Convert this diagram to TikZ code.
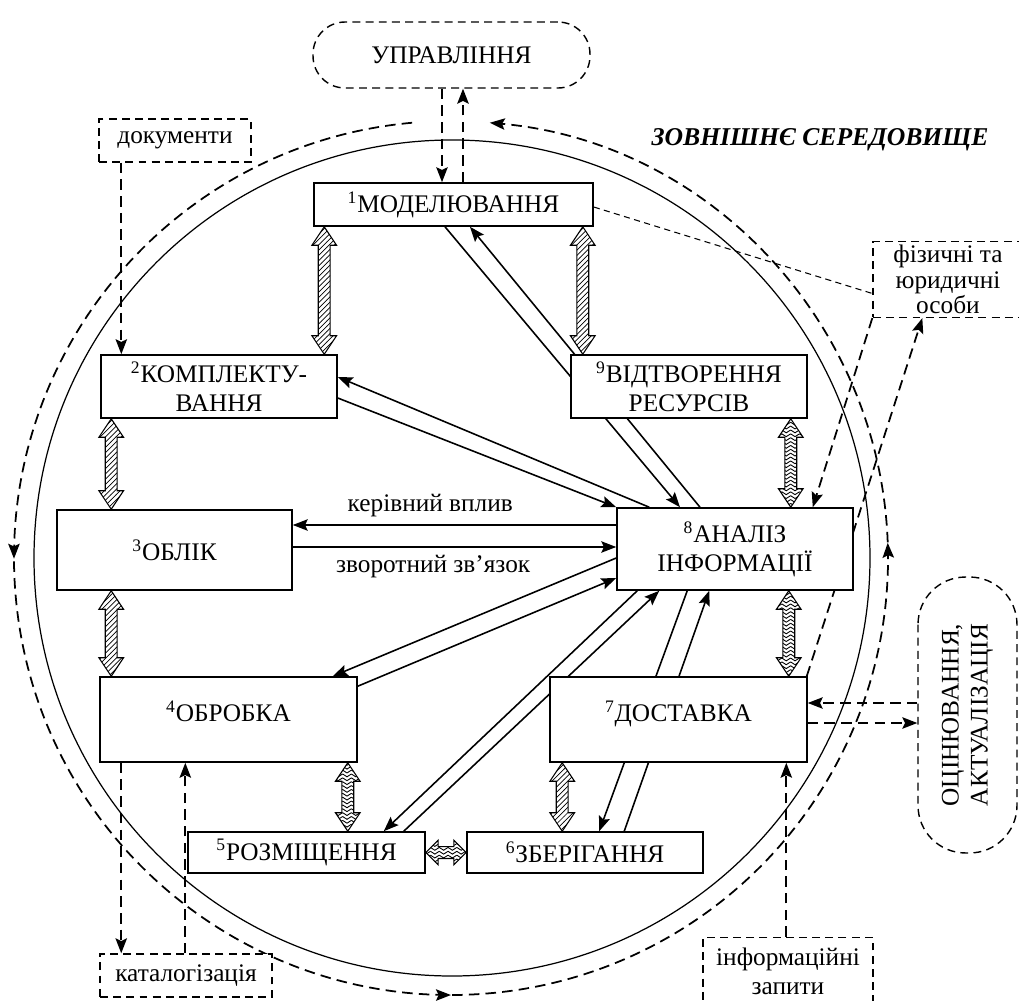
\documentclass[tikz,border=0pt]{standalone}
\usepackage{fontspec}
\setmainfont{Liberation Serif}
\usetikzlibrary{calc,patterns,arrows.meta,decorations.markings,backgrounds}

% zigzag fill for some of the fat arrows
\pgfdeclarepatternformonly{chevrons}{\pgfpoint{-1pt}{-1pt}}{\pgfpoint{6pt}{3.2pt}}{\pgfpoint{5pt}{2.2pt}}{%
  \pgfsetlinewidth{0.5pt}%
  \pgfpathmoveto{\pgfpoint{0pt}{1.6pt}}%
  \pgfpathlineto{\pgfpoint{2.5pt}{0pt}}%
  \pgfpathlineto{\pgfpoint{5pt}{1.6pt}}%
  \pgfusepath{stroke}}

\tikzset{
  stage/.style={draw, line width=0.9pt, fill=white, inner sep=2pt, align=center},
  outer/.style={draw, dash pattern=on 4.5pt off 3pt, line width=0.8pt, fill=white, inner sep=2pt, align=center},
  link/.style={line width=0.9pt, -{Stealth[length=8.5pt,width=6.5pt,inset=1.5pt]}},
  dlink/.style={line width=1pt, dash pattern=on 6pt off 3.5pt, -{Stealth[length=8.5pt,width=6.5pt,inset=1.5pt]}},
  fatarrow/.style={draw, line width=0.6pt}
}

\newcommand\fathead{10.5pt}
\newcommand\fatlink[3][north east lines]{%
  \coordinate (fs) at (#2);
  \coordinate (ft) at (#3);
  \coordinate (fa) at ($(fs)!\fathead!(ft)$);
  \coordinate (fb) at ($(ft)!\fathead!(fs)$);
  \draw[fatarrow, pattern=#1] (fs) -- ($(fa)!7pt!90:(ft)$) -- ($(fa)!3.4pt!90:(ft)$)
    -- ($(fb)!3.4pt!-90:(fs)$) -- ($(fb)!7pt!-90:(fs)$) -- (ft)
    -- ($(fb)!7pt!90:(fs)$) -- ($(fb)!3.4pt!90:(fs)$)
    -- ($(fa)!3.4pt!-90:(ft)$) -- ($(fa)!7pt!-90:(ft)$) -- cycle;}

\begin{document}
\begin{tikzpicture}[x=0.02cm, y=-0.02cm, font=\fontsize{14.4}{16.5}\selectfont]
  \useasboundingbox (0,0) rectangle (1019,1001);

  % stages of the cycle
  \node[stage, minimum width=5.58cm, minimum height=0.86cm] (mod) at (453.5,204.5) {\textsuperscript{1}МОДЕЛЮВАННЯ};
  \node[stage, minimum width=4.72cm, minimum height=1.26cm] (kompl) at (219,386.5) {\textsuperscript{2}КОМПЛЕКТУ-\\ВАННЯ};
  \node[stage, minimum width=4.72cm, minimum height=1.26cm] (vidt) at (689,386.5) {\textsuperscript{9}ВІДТВОРЕННЯ\\РЕСУРСІВ};
  \node[stage, minimum width=4.70cm, minimum height=1.60cm] (oblik) at (174.5,550) {\textsuperscript{3}ОБЛІК};
  \node[stage, minimum width=4.72cm, minimum height=1.64cm] (anal) at (735,549) {\textsuperscript{8}АНАЛІЗ\\ІНФОРМАЦІЇ};
  \node[stage, minimum width=5.14cm, minimum height=1.70cm, text depth=9pt] (obr) at (228.5,719.5) {\textsuperscript{4}ОБРОБКА};
  \node[stage, minimum width=5.14cm, minimum height=1.70cm, text depth=9pt] (dost) at (678.5,719.5) {\textsuperscript{7}ДОСТАВКА};
  \node[stage, minimum width=4.74cm, minimum height=0.82cm] (rozm) at (306.5,852.5) {\textsuperscript{5}РОЗМІЩЕННЯ};
  \node[stage, minimum width=4.72cm, minimum height=0.82cm] (zber) at (585,852.5) {\textsuperscript{6}ЗБЕРІГАННЯ};

  % outside world
  \node[outer, rounded corners=0.64cm, minimum width=5.54cm, minimum height=1.32cm] (upr) at (451.5,55) {УПРАВЛІННЯ};
  \node[outer, minimum width=3.04cm, minimum height=0.86cm] (doc) at (175,140.5) {документи};
  \node[outer, minimum width=3.00cm, minimum height=1.50cm] (fiz) at (948,279.5) {фізичні та\\[-2pt]юридичні\\[-2pt]особи};
  \node[outer, minimum width=3.44cm, minimum height=0.86cm] (kat) at (186,975.5) {каталогізація};
  \node[outer, minimum width=3.40cm, minimum height=1.34cm] (zap) at (788,971) {інформаційні\\запити};
  \node[outer, rotate=90, rounded corners=0.95cm, minimum width=5.52cm, minimum height=1.98cm] (ocin) at (967.5,715) {ОЦІНЮВАННЯ,\\АКТУАЛІЗАЦІЯ};
  \node[font=\fontsize{14.6}{16.5}\selectfont\bfseries\itshape] (zovn) at (820,140) {ЗОВНІШНЄ СЕРЕДОВИЩЕ};

  \begin{scope}[on background layer]
    % system boundary and environment loop
    \draw[line width=0.7pt] (452,558) circle[radius=418];
    \draw[line width=1pt, dash pattern=on 6pt off 3.5pt, -{Stealth[length=8.5pt,width=6.5pt,inset=1.5pt]},
      decoration={markings,
        mark=at position 0.243 with {\arrow{Stealth[length=8.5pt,width=6.5pt,inset=1.5pt]}},
        mark=at position 0.5 with {\arrow{Stealth[length=8.5pt,width=6.5pt,inset=1.5pt]}},
        mark=at position 0.763 with {\arrow{Stealth[length=8.5pt,width=6.5pt,inset=1.5pt]}}},
      postaction={decorate}] ($(451,558)+(264.9:437)$) arc[start angle=264.9, end angle=-84.9, radius=437];

    % information flows
    \draw[link] ($(mod.south)+(-8.5,0)$) -- ($(anal.north)+(-55,0)$);
    \draw[link] ($(anal.north)+(-35,0)$) -- ($(mod.south)+(16.5,0)$);
    \draw[link] ($(anal.north west)+(33,0)$) -- ($(kompl.east)+(0,-9.5)$);
    \draw[link] ($(kompl.east)+(0,11.5)$) -- (anal.north west);
    \coordinate (kv) at ($(anal.west)+(0,-24)$);
    \draw[link] (kv) -- node[pos=0.575, above=1pt] {керівний вплив} (kv -| oblik.east);
    \coordinate (zz) at ($(oblik.east)+(0,-3)$);
    \draw[link] (zz) -- node[pos=0.434, below=1pt] {зворотний зв’язок} (zz -| anal.west);
    \draw[link] ($(anal.west)+(0,9)$) -- ($(obr.north east)+(-25,0)$);
    \draw[link] ($(obr.north east)+(0,10)$) -- ($(anal.west)+(0,29)$);
    \draw[link] ($(anal.south west)+(21,0)$) -- ($(rozm.north east)+(-42,0)$);
    \draw[link] ($(rozm.north east)+(-22,0)$) -- ($(anal.south west)+(43,0)$);
    \draw[link] ($(anal.south west)+(71,0)$) -- ($(zber.north west)+(133,0)$);
    \draw[link] ($(zber.north west)+(158,0)$) -- ($(anal.south west)+(93,0)$);

    % links with the environment
    \coordinate (u1) at ($(upr.south)+(-9.5,0)$);
    \draw[dlink] (u1) -- (u1 |- mod.north);
    \coordinate (u2) at ($(mod.north)+(9.5,0)$);
    \draw[dlink] (u2) -- (u2 |- upr.south);
    \coordinate (dc) at ($(doc.south west)+(23,0)$);
    \draw[dlink] (dc) -- (dc |- kompl.north);
    \coordinate (k1) at ($(obr.south west)+(22,0)$);
    \draw[dlink] (k1) -- (k1 |- kat.north);
    \coordinate (k2) at ($(kat.north west)+(86,0)$);
    \draw[dlink] (k2) -- (k2 |- obr.south);
    \coordinate (zq) at ($(zap.north west)+(84,0)$);
    \draw[dlink] (zq) -- (zq |- dost.south);
    \coordinate (o1) at ($(ocin.north)+(0,-12)$);
    \draw[dlink] (o1) -- (o1 -| dost.east);
    \coordinate (o2) at ($(dost.east)+(0,3.5)$);
    \draw[dlink] (o2) -- (o2 -| ocin.north);
    \draw[dlink] (fiz.south west) -- ($(anal.north east)+(-41,0)$);
    \draw[dlink] ($(dost.north east)+(-1,0)$) -- ($(fiz.south west)+(50,0)$);
    \draw[line width=0.6pt, dash pattern=on 3.5pt off 2.5pt] ($(mod.east)+(0,2.5)$) -- ($(fiz.west)+(0,14)$);
  \end{scope}

  % two-way exchanges between neighbouring stages
  \coordinate (f1) at ($(mod.south west)+(11,0)$);
  \fatlink{f1}{f1 |- kompl.north}
  \coordinate (f2) at ($(mod.south east)+(-11,0)$);
  \fatlink{f2}{f2 |- vidt.north}
  \coordinate (f3) at ($(kompl.south west)+(11,0)$);
  \fatlink{f3}{f3 |- oblik.north}
  \coordinate (f4) at ($(oblik.south west)+(55,0)$);
  \fatlink{f4}{f4 |- obr.north}
  \coordinate (f5) at ($(vidt.south east)+(-17,0)$);
  \fatlink[chevrons]{f5}{f5 |- anal.north}
  \coordinate (f6) at ($(anal.south east)+(-65,0)$);
  \fatlink[chevrons]{f6}{f6 |- dost.north}
  \coordinate (f7) at ($(obr.south east)+(-10,0)$);
  \fatlink[chevrons]{f7}{f7 |- rozm.north}
  \coordinate (f8) at ($(dost.south west)+(13,0)$);
  \fatlink{f8}{f8 |- zber.north}
  {\renewcommand\fathead{7pt}\fatlink[chevrons]{rozm.east}{zber.west}}
\end{tikzpicture}
\end{document}
